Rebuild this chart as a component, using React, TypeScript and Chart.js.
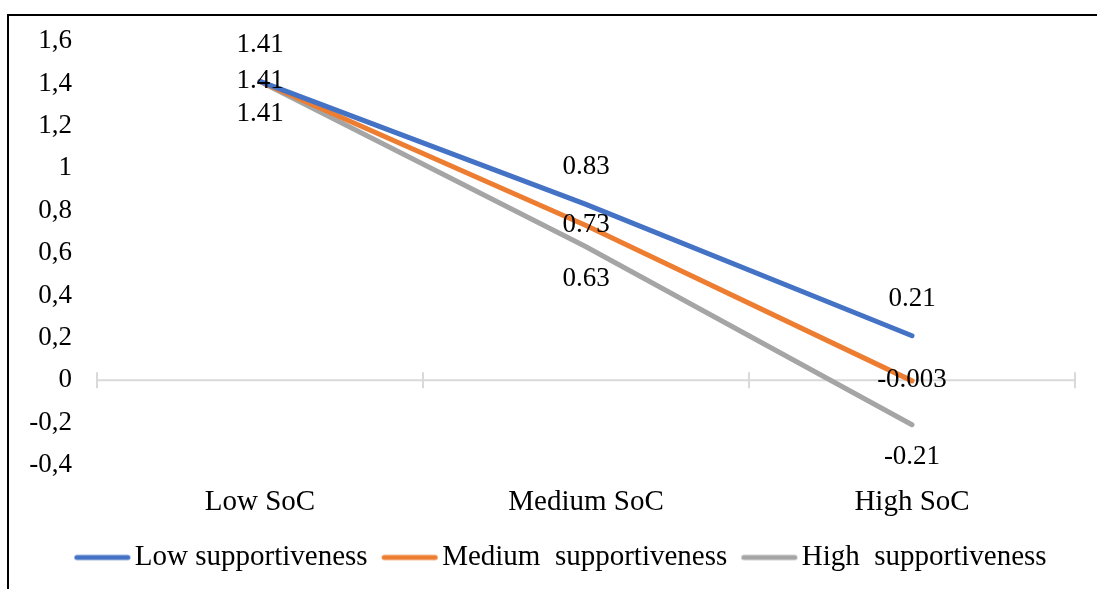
import React, { useEffect, useRef } from 'react';
import { Chart, registerables } from 'chart.js';

Chart.register(...registerables);

const categories = ['Low SoC', 'Medium SoC', 'High SoC'];
const seriesNames = ['Low supportiveness', 'Medium  supportiveness', 'High  supportiveness'];
const lowSupportiveness = [1.41, 0.83, 0.21];
const mediumSupportiveness = [1.41, 0.73, -0.003];
const highSupportiveness = [1.41, 0.63, -0.21];
const yMin = -0.4;
const yMax = 1.6;
const yStep = 0.2;

const FONT = '"Liberation Serif", "Times New Roman", serif';
const seriesColors = ['#4472C4', '#ED7D31', '#A5A5A5'];
const labelOffsets = [-37, -1, 32];

const zeroLinePlugin = {
  id: 'zeroLine',
  beforeDatasetsDraw(chart: any) {
    const { ctx, chartArea } = chart;
    const yScale = chart.scales.y;
    const y = yScale.getPixelForValue(0);
    const n = chart.data.labels.length;
    ctx.save();
    ctx.strokeStyle = '#D9D9D9';
    ctx.lineWidth = 2;
    ctx.beginPath();
    ctx.moveTo(chartArea.left, y);
    ctx.lineTo(chartArea.right, y);
    for (let i = 0; i <= n; i++) {
      const x = chartArea.left + (i * chartArea.width) / n;
      ctx.moveTo(x, y - 8);
      ctx.lineTo(x, y + 8);
    }
    ctx.stroke();
    ctx.restore();
  },
};

const dataLabelPlugin = {
  id: 'dataLabels',
  afterDatasetsDraw(chart: any) {
    const { ctx } = chart;
    ctx.save();
    ctx.font = `27px ${FONT}`;
    ctx.fillStyle = '#000';
    ctx.textAlign = 'center';
    ctx.textBaseline = 'middle';
    chart.data.datasets.forEach((ds: any, di: number) => {
      const meta = chart.getDatasetMeta(di);
      meta.data.forEach((pt: any, i: number) => {
        ctx.fillText(String(ds.data[i]), pt.x, pt.y + labelOffsets[di]);
      });
    });
    ctx.restore();
  },
};

const legendShiftPlugin = {
  id: 'legendShift',
  afterLayout(chart: any) {
    if (chart.legend) chart.legend.left += 22;
  },
};

function makeLegendLine(color: string): HTMLCanvasElement {
  const c = document.createElement('canvas');
  c.width = 80;
  c.height = 10;
  const g = c.getContext('2d')!;
  g.strokeStyle = color;
  g.lineWidth = 5;
  g.lineCap = 'round';
  g.beginPath();
  g.moveTo(21.5, 5);
  g.lineTo(72.5, 5);
  g.stroke();
  return c;
}

export default function App() {
  const canvasRef = useRef<HTMLCanvasElement | null>(null);

  useEffect(() => {
    if (!canvasRef.current) return;
    const seriesData = [lowSupportiveness, mediumSupportiveness, highSupportiveness];
    const legendImages = seriesColors.map((c) => makeLegendLine(c));
    const chart = new Chart(canvasRef.current, {
      type: 'line',
      data: {
        labels: categories,
        datasets: seriesData.map((d, i) => ({
          label: seriesNames[i],
          data: d,
          borderColor: seriesColors[i],
          backgroundColor: seriesColors[i],
          borderWidth: 5,
          borderCapStyle: 'round',
          pointRadius: 0,
          pointHoverRadius: 0,
          tension: 0,
          fill: false,
        })),
      },
      options: {
        animation: false,
        responsive: false,
        maintainAspectRatio: false,
        layout: { padding: { left: 20, right: 22, top: 41, bottom: 7 } },
        scales: {
          x: {
            offset: true,
            grid: { display: false, drawTicks: false },
            border: { display: false },
            ticks: { font: { family: FONT, size: 29 }, color: '#000', padding: 20 },
            afterFit: (s: any) => {
              s.height = 68;
            },
          },
          y: {
            min: yMin,
            max: yMax,
            grid: { display: false, drawTicks: false },
            border: { display: false },
            ticks: {
              stepSize: yStep,
              font: { family: FONT, size: 27 },
              color: '#000',
              padding: 25,
              callback: (v: any) => String(Number(Number(v).toFixed(1))).replace('.', ','),
            },
            afterFit: (s: any) => {
              s.width = 77;
            },
          },
        },
        plugins: {
          legend: {
            position: 'bottom',
            labels: {
              usePointStyle: true,
              pointStyleWidth: 50,
              font: { family: FONT, size: 29 },
              color: '#000',
              padding: 10,
              generateLabels: (c: any) =>
                c.data.datasets.map((ds: any, i: number) => ({
                  text: ds.label,
                  fillStyle: ds.borderColor,
                  strokeStyle: ds.borderColor,
                  lineWidth: 0,
                  pointStyle: legendImages[i],
                  datasetIndex: i,
                  hidden: false,
                  fontColor: '#000',
                })),
            },
          },
          tooltip: { enabled: false },
        },
      },
      plugins: [zeroLinePlugin, dataLabelPlugin, legendShiftPlugin],
    } as any);
    return () => chart.destroy();
  }, []);

  return (
    <div style={{ position: 'fixed', left: 0, top: 0, width: 1097, height: 589, background: '#fff', overflow: 'hidden' }}>
      <canvas ref={canvasRef} width={1097} height={589} style={{ position: 'absolute', left: 0, top: 0, width: 1097, height: 589 }} />
      <div
        style={{
          position: 'absolute',
          left: 7,
          top: 14,
          right: -2,
          bottom: -2,
          borderLeft: '2px solid #000',
          borderTop: '2px solid #000',
          pointerEvents: 'none',
        }}
      />
    </div>
  );
}
